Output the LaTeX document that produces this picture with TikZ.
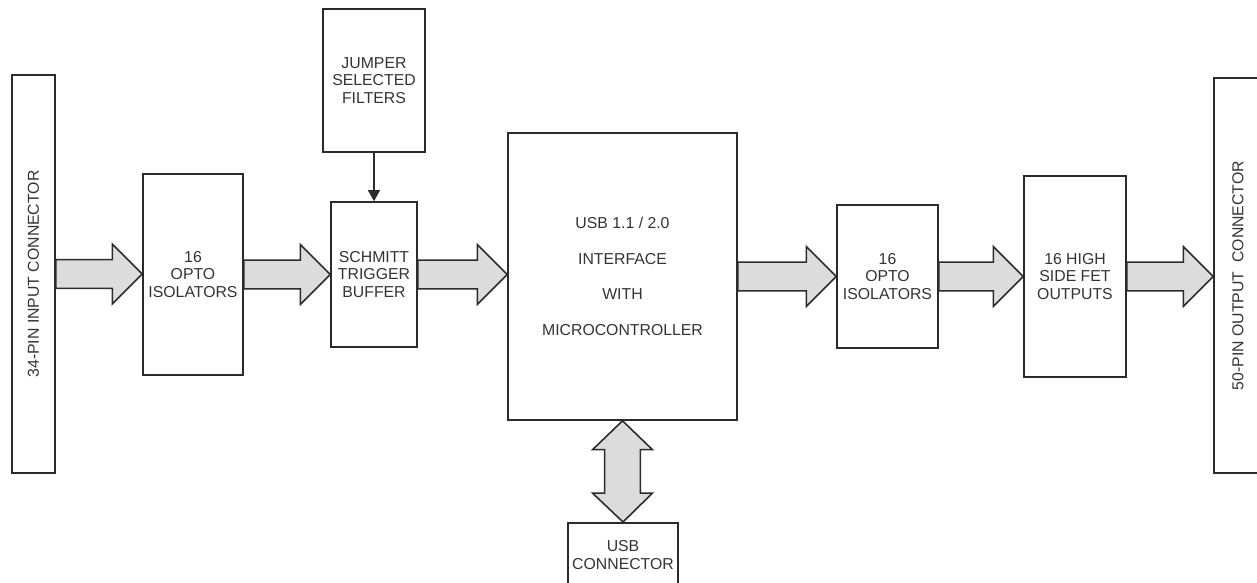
\documentclass[tikz,border=0pt]{standalone}
\usepackage{fontspec}
\setmainfont{Liberation Sans}
\usepackage{tikz}
\usetikzlibrary{arrows.meta,calc}
\newlength\px
\setlength\px{0.02cm}
\definecolor{linegray}{HTML}{2B2B2B}
\definecolor{textgray}{HTML}{333333}
\definecolor{busgray}{HTML}{DCDCDC}
\tikzset{
    %Define style for boxes
    block/.style={
           rectangle,
           draw=linegray, line width=0.9pt,
           inner sep=0pt,
           font=\fontsize{9}{10}\selectfont,
           text=textgray,
           align=center},
    % Define style for the wide bus arrows
    bus/.style={
           draw=linegray, line width=0.9pt,
           fill=busgray,
           line join=miter},
    % Define thin arrow style
    pil/.style={
           -{Triangle[length=6.3pt,width=6.8pt]},
           draw=linegray, line width=0.9pt}
}
% wide arrow from east side of #1 to west side of #2
\newcommand{\busarrow}[2]{%
  \draw[bus] let \p1=(#1.east), \p2=(#2.west) in
    (\x1,\y1+8.2pt) -- (\x2-17pt,\y1+8.2pt) -- (\x2-17pt,\y1+17pt) -- (\x2,\y1)
    -- (\x2-17pt,\y1-17pt) -- (\x2-17pt,\y1-8.2pt) -- (\x1,\y1-8.2pt) -- cycle;}
\begin{document}
\begin{tikzpicture}[x=\px,y=-\px]
\useasboundingbox (0,0) rectangle (1257,582);
\node[block, minimum width=43\px, minimum height=398\px](inconn) at (33.5,274)
  {\rotatebox{90}{34-PIN INPUT CONNECTOR}};
\node[block, minimum width=100\px, minimum height=201\px](opto1) at (193,274.5)
  {16\\OPTO\\ISOLATORS};
\node[block, minimum width=102\px, minimum height=143\px](jumper) at (374,80.5)
  {JUMPER\\SELECTED\\FILTERS};
\node[block, minimum width=86\px, minimum height=145\px](schmitt) at (374,274.5)
  {SCHMITT\\TRIGGER\\BUFFER};
\node[block, minimum width=229\px, minimum height=287\px](mcu) at (622.5,276.5)
  {USB 1.1 / 2.0\\[10.2pt]INTERFACE\\[10.2pt]WITH\\[10.2pt]MICROCONTROLLER};
\node[block, minimum width=110\px, minimum height=64\px, anchor=north](usbconn) at (623,522)
  {USB\\CONNECTOR};
\node[block, minimum width=101\px, minimum height=143\px](opto2) at (887.5,276.5)
  {16\\OPTO\\ISOLATORS};
\node[block, minimum width=102\px, minimum height=201\px](fet) at (1075,276.5)
  {16 HIGH\\SIDE FET\\OUTPUTS};
\node[block, minimum width=48\px, minimum height=395\px](outconn) at (1238,275.5)
  {\rotatebox{90}{50-PIN OUTPUT\ \ CONNECTOR}};
\busarrow{inconn}{opto1}
\busarrow{opto1}{schmitt}
\busarrow{schmitt}{mcu}
\busarrow{mcu}{opto2}
\busarrow{opto2}{fet}
\busarrow{fet}{outconn}
\draw[pil] (jumper) -- (schmitt);
% two-way USB bus
\draw[bus] let \p1=(mcu.south), \p2=(usbconn.north) in
  (\x1,\y1) -- (\x1+17pt,\y1-16.4pt) -- (\x1+10.2pt,\y1-16.4pt) -- (\x1+10.2pt,\y2+16.4pt)
  -- (\x1+17pt,\y2+16.4pt) -- (\x2,\y2) -- (\x1-17pt,\y2+16.4pt) -- (\x1-10.2pt,\y2+16.4pt)
  -- (\x1-10.2pt,\y1-16.4pt) -- (\x1-17pt,\y1-16.4pt) -- cycle;
\end{tikzpicture}
\end{document}
